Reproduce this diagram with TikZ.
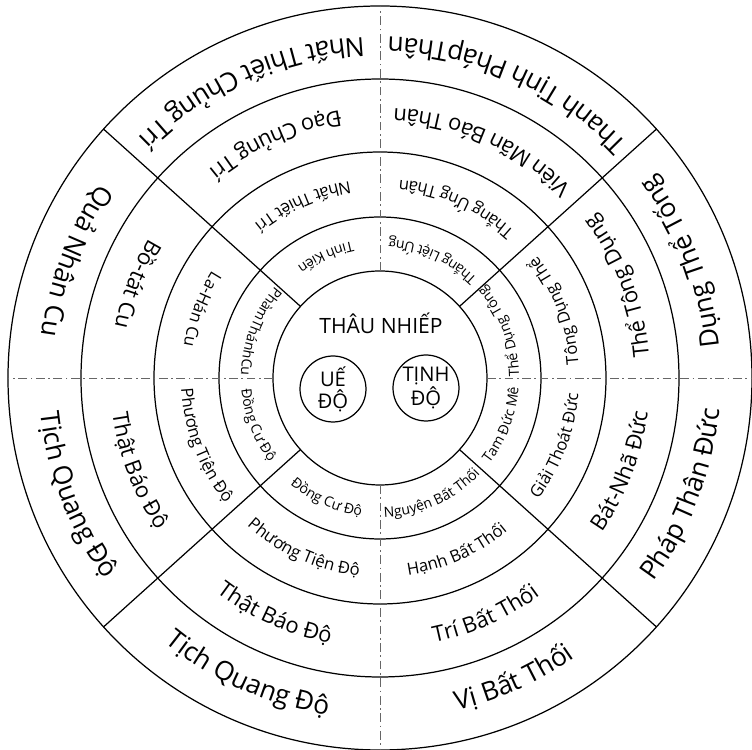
\documentclass[tikz,border=0pt]{standalone}
\usepackage{fontspec}
\setmainfont{Open Sans}
\usetikzlibrary{decorations.text}

\newcommand\ringlabel[5]{%
  \path[decorate,decoration={text along path,text align=center,
    text/.expanded={|\noexpand\fontsize{#4}{#4}\noexpand\selectfont|#5}}]
    (#1:#3) arc[start angle=#1,end angle=#2,radius=#3];}

\begin{document}
\begin{tikzpicture}[x=0.02cm,y=0.02cm,
  ringline/.style={line width=0.7pt},
  axisline/.style={line width=0.45pt,black!60,dash pattern=on 5pt off 2pt on 1pt off 2pt},
  dobox/.style={draw,circle,line width=0.7pt,minimum size=1.32cm,inner sep=0pt,align=center,font=\fontsize{11.5}{12.5}\selectfont}]
\useasboundingbox (-380,-372) rectangle (372,378);
\foreach \r in {107,161,226,299,372} {\draw[ringline] (0,0) circle[radius=\r];}
\foreach \a in {0,90,180,270} {\draw[axisline] (\a:107) -- (\a:372);}
\foreach \a in {42,138,222,318} {\draw[ringline] (\a:107) -- (\a:372);}
\foreach \s/\e/\t in {0/42/Thể Dụng Tông, 42/90/Thắng Liệt Ứng, 90/138/Tinh Kiến, 138/180/PhàmThánhCu,
  180/222/Đồng Cư Độ, 222/270/Đồng Cư Độ, 270/318/Nguyện Bất Thối, 318/360/Tam Đức Mê}
  {\ringlabel{\s}{\e}{139}{8}{\t}}
\foreach \s/\e/\t in {0/42/Tông Dụng Thể, 42/90/Thắng Ứng Thân, 90/138/Nhất Thiết Trí, 138/180/La-Hán Cu,
  180/222/Phương Tiện Độ, 222/270/Phương Tiện Độ, 270/318/Hạnh Bất Thối, 318/360/Giải Thoát Đức}
  {\ringlabel{\s}{\e}{199}{9.5}{\t}}
\foreach \s/\e/\t in {0/42/Thể Tông Dụng, 42/90/Viên Mãn Báo Thân, 90/138/Đạo Chủng Trí, 138/180/Bồ-tát Cu,
  180/222/Thật Báo Độ, 222/270/Thật Báo Độ, 270/318/Trí Bất Thối, 318/360/Bát-Nhã Đức}
  {\ringlabel{\s}{\e}{270}{12.5}{\t}}
\foreach \s/\e/\t in {0/42/Dụng Thể Tống, 42/90/Thanh Tịnh PhápThân, 90/138/Nhất Thiết Chủng Trí, 138/180/Quả Nhân Cu,
  180/222/Tịch Quang Độ, 222/270/Tịch Quang Độ, 270/318/Vị Bất Thối, 318/360/Pháp Thân Đức}
  {\ringlabel{\s}{\e}{341}{15}{\t}}
\node[font=\fontsize{12}{14}\selectfont,anchor=base] (thau) at (1,44) {THÂU NHIẾP};
\node[dobox] (ue) at (-47,-11) {UẾ\\ĐỘ};
\node[dobox] (tinh) at (46,-10) {TỊNH\\ĐỘ};
\end{tikzpicture}
\end{document}
